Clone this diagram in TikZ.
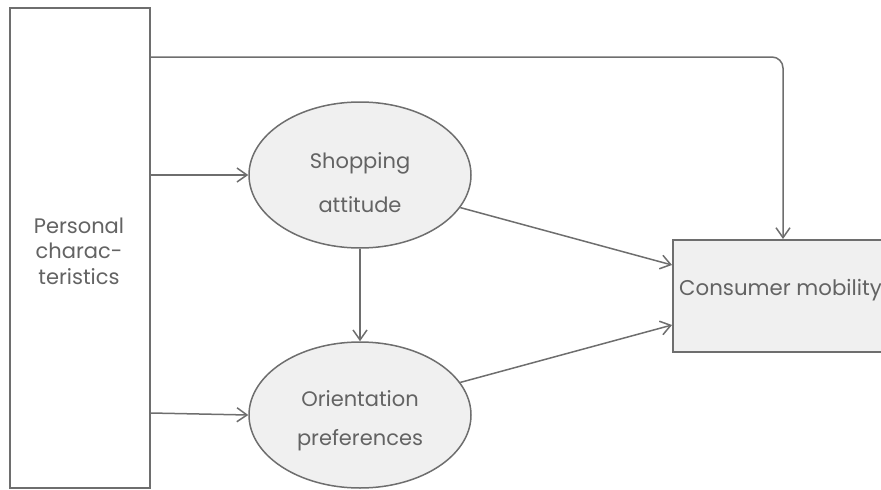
\documentclass[tikz,border=0pt]{standalone}
\usepackage{fontspec}
\setmainfont{Poppins}
\usetikzlibrary{arrows.meta,shapes.geometric}
\definecolor{edge}{HTML}{6E6E6E}
\definecolor{ink}{HTML}{636363}
\definecolor{shade}{HTML}{F0F0F0}
\begin{document}
\begin{tikzpicture}[x=1pt,y=-1pt,
  every node/.style={text=ink},
  link/.style={draw=edge,line width=1.5pt,-{Straight Barb[length=10pt,width=14pt,line width=1.5pt]}},
  factor/.style={draw=edge,line width=1.5pt,fill=shade,ellipse,minimum width=222pt,minimum height=146pt,inner sep=0pt},
  panel/.style={draw=edge,line width=1.5pt,rectangle,inner sep=0pt},
  caption/.style={font=\fontsize{21}{26}\selectfont,align=center,anchor=base,inner sep=0pt}]
\useasboundingbox (0,0) rectangle (881,490);
\begin{scope}
\clip (0,0) rectangle (881,490);
% left column box
\node[panel,fill=white,minimum width=140pt,minimum height=480pt,anchor=north west] (pc) at (9,7) {};
\node[caption,font=\fontsize{21}{25.5}\selectfont] (pct) at (79,284) {Personal\\charac-\\teristics};
% outcome box, running past the right edge
\node[panel,fill=shade,minimum width=230pt,minimum height=112pt,anchor=north west] (cm) at (672,239) {};
\node[caption,font=\fontsize{21.3}{26}\selectfont,anchor=base west] (cmt) at (679,295) {Consumer mobility};
% mediating factors
\node[factor] (sa) at (360,175) {};
\node[caption,font=\fontsize{21}{44}\selectfont] (sat) at (sa |- 0,212) {Shopping\\attitude};
\node[factor] (op) at (360,415) {};
\node[caption,font=\fontsize{21}{39}\selectfont] (opt) at (op |- 0,445) {Orientation\\preferences};
\end{scope}
% connectors
\coordinate (topturn) at (783,57);
\draw[link,rounded corners=11pt] (pc.east |- 0,57) -- (topturn) -- (cm.north -| topturn);
\draw[link] (pc.east |- 0,175) -- (sa.west);
\draw[link] (pc.east |- 0,413) -- (op.west);
\draw[link] (sa.south) -- (op.north);
\draw[link] (sa.-18) -- (cm.west |- 0,265);
\draw[link] (op.18) -- (cm.west |- 0,325);
\end{tikzpicture}
\end{document}
